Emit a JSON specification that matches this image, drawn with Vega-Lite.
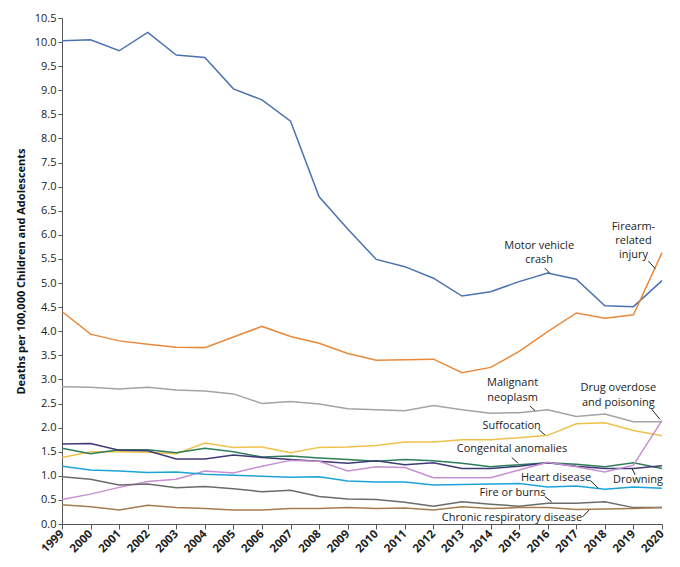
{
  "$schema": "https://vega.github.io/schema/vega-lite/v6.json",
  "width": 600,
  "height": 506,
  "autosize": "none",
  "padding": {"left": 62, "top": 18, "right": 18, "bottom": 43},
  "background": "#ffffff",
  "datasets": {
    "rates": [
      {"cause": "Motor vehicle crash", "year": 1999, "rate": 10.03}, {"cause": "Motor vehicle crash", "year": 2000, "rate": 10.05},
      {"cause": "Motor vehicle crash", "year": 2001, "rate": 9.82}, {"cause": "Motor vehicle crash", "year": 2002, "rate": 10.2},
      {"cause": "Motor vehicle crash", "year": 2003, "rate": 9.73}, {"cause": "Motor vehicle crash", "year": 2004, "rate": 9.68},
      {"cause": "Motor vehicle crash", "year": 2005, "rate": 9.03}, {"cause": "Motor vehicle crash", "year": 2006, "rate": 8.8},
      {"cause": "Motor vehicle crash", "year": 2007, "rate": 8.36}, {"cause": "Motor vehicle crash", "year": 2008, "rate": 6.79},
      {"cause": "Motor vehicle crash", "year": 2009, "rate": 6.12}, {"cause": "Motor vehicle crash", "year": 2010, "rate": 5.49},
      {"cause": "Motor vehicle crash", "year": 2011, "rate": 5.34}, {"cause": "Motor vehicle crash", "year": 2012, "rate": 5.1},
      {"cause": "Motor vehicle crash", "year": 2013, "rate": 4.73}, {"cause": "Motor vehicle crash", "year": 2014, "rate": 4.82},
      {"cause": "Motor vehicle crash", "year": 2015, "rate": 5.03}, {"cause": "Motor vehicle crash", "year": 2016, "rate": 5.21},
      {"cause": "Motor vehicle crash", "year": 2017, "rate": 5.08}, {"cause": "Motor vehicle crash", "year": 2018, "rate": 4.53},
      {"cause": "Motor vehicle crash", "year": 2019, "rate": 4.51}, {"cause": "Motor vehicle crash", "year": 2020, "rate": 5.05},

      {"cause": "Firearm-related injury", "year": 1999, "rate": 4.41}, {"cause": "Firearm-related injury", "year": 2000, "rate": 3.94},
      {"cause": "Firearm-related injury", "year": 2001, "rate": 3.8}, {"cause": "Firearm-related injury", "year": 2002, "rate": 3.73},
      {"cause": "Firearm-related injury", "year": 2003, "rate": 3.67}, {"cause": "Firearm-related injury", "year": 2004, "rate": 3.66},
      {"cause": "Firearm-related injury", "year": 2005, "rate": 3.88}, {"cause": "Firearm-related injury", "year": 2006, "rate": 4.1},
      {"cause": "Firearm-related injury", "year": 2007, "rate": 3.89}, {"cause": "Firearm-related injury", "year": 2008, "rate": 3.75},
      {"cause": "Firearm-related injury", "year": 2009, "rate": 3.54}, {"cause": "Firearm-related injury", "year": 2010, "rate": 3.4},
      {"cause": "Firearm-related injury", "year": 2011, "rate": 3.41}, {"cause": "Firearm-related injury", "year": 2012, "rate": 3.42},
      {"cause": "Firearm-related injury", "year": 2013, "rate": 3.14}, {"cause": "Firearm-related injury", "year": 2014, "rate": 3.25},
      {"cause": "Firearm-related injury", "year": 2015, "rate": 3.58}, {"cause": "Firearm-related injury", "year": 2016, "rate": 3.99},
      {"cause": "Firearm-related injury", "year": 2017, "rate": 4.38}, {"cause": "Firearm-related injury", "year": 2018, "rate": 4.27},
      {"cause": "Firearm-related injury", "year": 2019, "rate": 4.34}, {"cause": "Firearm-related injury", "year": 2020, "rate": 5.63},

      {"cause": "Malignant neoplasm", "year": 1999, "rate": 2.85}, {"cause": "Malignant neoplasm", "year": 2000, "rate": 2.84},
      {"cause": "Malignant neoplasm", "year": 2001, "rate": 2.8}, {"cause": "Malignant neoplasm", "year": 2002, "rate": 2.84},
      {"cause": "Malignant neoplasm", "year": 2003, "rate": 2.78}, {"cause": "Malignant neoplasm", "year": 2004, "rate": 2.76},
      {"cause": "Malignant neoplasm", "year": 2005, "rate": 2.7}, {"cause": "Malignant neoplasm", "year": 2006, "rate": 2.5},
      {"cause": "Malignant neoplasm", "year": 2007, "rate": 2.54}, {"cause": "Malignant neoplasm", "year": 2008, "rate": 2.49},
      {"cause": "Malignant neoplasm", "year": 2009, "rate": 2.39}, {"cause": "Malignant neoplasm", "year": 2010, "rate": 2.37},
      {"cause": "Malignant neoplasm", "year": 2011, "rate": 2.35}, {"cause": "Malignant neoplasm", "year": 2012, "rate": 2.46},
      {"cause": "Malignant neoplasm", "year": 2013, "rate": 2.37}, {"cause": "Malignant neoplasm", "year": 2014, "rate": 2.3},
      {"cause": "Malignant neoplasm", "year": 2015, "rate": 2.31}, {"cause": "Malignant neoplasm", "year": 2016, "rate": 2.37},
      {"cause": "Malignant neoplasm", "year": 2017, "rate": 2.23}, {"cause": "Malignant neoplasm", "year": 2018, "rate": 2.28},
      {"cause": "Malignant neoplasm", "year": 2019, "rate": 2.12}, {"cause": "Malignant neoplasm", "year": 2020, "rate": 2.12},

      {"cause": "Suffocation", "year": 1999, "rate": 1.38}, {"cause": "Suffocation", "year": 2000, "rate": 1.5},
      {"cause": "Suffocation", "year": 2001, "rate": 1.5}, {"cause": "Suffocation", "year": 2002, "rate": 1.49},
      {"cause": "Suffocation", "year": 2003, "rate": 1.46}, {"cause": "Suffocation", "year": 2004, "rate": 1.68},
      {"cause": "Suffocation", "year": 2005, "rate": 1.59}, {"cause": "Suffocation", "year": 2006, "rate": 1.6},
      {"cause": "Suffocation", "year": 2007, "rate": 1.48}, {"cause": "Suffocation", "year": 2008, "rate": 1.59},
      {"cause": "Suffocation", "year": 2009, "rate": 1.6}, {"cause": "Suffocation", "year": 2010, "rate": 1.63},
      {"cause": "Suffocation", "year": 2011, "rate": 1.7}, {"cause": "Suffocation", "year": 2012, "rate": 1.7},
      {"cause": "Suffocation", "year": 2013, "rate": 1.75}, {"cause": "Suffocation", "year": 2014, "rate": 1.75},
      {"cause": "Suffocation", "year": 2015, "rate": 1.79}, {"cause": "Suffocation", "year": 2016, "rate": 1.84},
      {"cause": "Suffocation", "year": 2017, "rate": 2.08}, {"cause": "Suffocation", "year": 2018, "rate": 2.1},
      {"cause": "Suffocation", "year": 2019, "rate": 1.94}, {"cause": "Suffocation", "year": 2020, "rate": 1.83},

      {"cause": "Congenital anomalies", "year": 1999, "rate": 1.57}, {"cause": "Congenital anomalies", "year": 2000, "rate": 1.46},
      {"cause": "Congenital anomalies", "year": 2001, "rate": 1.54}, {"cause": "Congenital anomalies", "year": 2002, "rate": 1.54},
      {"cause": "Congenital anomalies", "year": 2003, "rate": 1.48}, {"cause": "Congenital anomalies", "year": 2004, "rate": 1.57},
      {"cause": "Congenital anomalies", "year": 2005, "rate": 1.5}, {"cause": "Congenital anomalies", "year": 2006, "rate": 1.39},
      {"cause": "Congenital anomalies", "year": 2007, "rate": 1.41}, {"cause": "Congenital anomalies", "year": 2008, "rate": 1.37},
      {"cause": "Congenital anomalies", "year": 2009, "rate": 1.34}, {"cause": "Congenital anomalies", "year": 2010, "rate": 1.3},
      {"cause": "Congenital anomalies", "year": 2011, "rate": 1.34}, {"cause": "Congenital anomalies", "year": 2012, "rate": 1.31},
      {"cause": "Congenital anomalies", "year": 2013, "rate": 1.26}, {"cause": "Congenital anomalies", "year": 2014, "rate": 1.19},
      {"cause": "Congenital anomalies", "year": 2015, "rate": 1.23}, {"cause": "Congenital anomalies", "year": 2016, "rate": 1.27},
      {"cause": "Congenital anomalies", "year": 2017, "rate": 1.24}, {"cause": "Congenital anomalies", "year": 2018, "rate": 1.19},
      {"cause": "Congenital anomalies", "year": 2019, "rate": 1.27}, {"cause": "Congenital anomalies", "year": 2020, "rate": 1.15},

      {"cause": "Drowning", "year": 1999, "rate": 1.66}, {"cause": "Drowning", "year": 2000, "rate": 1.67},
      {"cause": "Drowning", "year": 2001, "rate": 1.53}, {"cause": "Drowning", "year": 2002, "rate": 1.52},
      {"cause": "Drowning", "year": 2003, "rate": 1.35}, {"cause": "Drowning", "year": 2004, "rate": 1.35},
      {"cause": "Drowning", "year": 2005, "rate": 1.43}, {"cause": "Drowning", "year": 2006, "rate": 1.38},
      {"cause": "Drowning", "year": 2007, "rate": 1.34}, {"cause": "Drowning", "year": 2008, "rate": 1.3},
      {"cause": "Drowning", "year": 2009, "rate": 1.26}, {"cause": "Drowning", "year": 2010, "rate": 1.31},
      {"cause": "Drowning", "year": 2011, "rate": 1.23}, {"cause": "Drowning", "year": 2012, "rate": 1.27},
      {"cause": "Drowning", "year": 2013, "rate": 1.15}, {"cause": "Drowning", "year": 2014, "rate": 1.15},
      {"cause": "Drowning", "year": 2015, "rate": 1.2}, {"cause": "Drowning", "year": 2016, "rate": 1.27},
      {"cause": "Drowning", "year": 2017, "rate": 1.2}, {"cause": "Drowning", "year": 2018, "rate": 1.15},
      {"cause": "Drowning", "year": 2019, "rate": 1.15}, {"cause": "Drowning", "year": 2020, "rate": 1.21},

      {"cause": "Drug overdose and poisoning", "year": 1999, "rate": 0.51}, {"cause": "Drug overdose and poisoning", "year": 2000, "rate": 0.62},
      {"cause": "Drug overdose and poisoning", "year": 2001, "rate": 0.76}, {"cause": "Drug overdose and poisoning", "year": 2002, "rate": 0.88},
      {"cause": "Drug overdose and poisoning", "year": 2003, "rate": 0.93}, {"cause": "Drug overdose and poisoning", "year": 2004, "rate": 1.1},
      {"cause": "Drug overdose and poisoning", "year": 2005, "rate": 1.06}, {"cause": "Drug overdose and poisoning", "year": 2006, "rate": 1.2},
      {"cause": "Drug overdose and poisoning", "year": 2007, "rate": 1.32}, {"cause": "Drug overdose and poisoning", "year": 2008, "rate": 1.3},
      {"cause": "Drug overdose and poisoning", "year": 2009, "rate": 1.1}, {"cause": "Drug overdose and poisoning", "year": 2010, "rate": 1.19},
      {"cause": "Drug overdose and poisoning", "year": 2011, "rate": 1.17}, {"cause": "Drug overdose and poisoning", "year": 2012, "rate": 0.96},
      {"cause": "Drug overdose and poisoning", "year": 2013, "rate": 0.96}, {"cause": "Drug overdose and poisoning", "year": 2014, "rate": 0.96},
      {"cause": "Drug overdose and poisoning", "year": 2015, "rate": 1.12}, {"cause": "Drug overdose and poisoning", "year": 2016, "rate": 1.28},
      {"cause": "Drug overdose and poisoning", "year": 2017, "rate": 1.19}, {"cause": "Drug overdose and poisoning", "year": 2018, "rate": 1.08},
      {"cause": "Drug overdose and poisoning", "year": 2019, "rate": 1.22}, {"cause": "Drug overdose and poisoning", "year": 2020, "rate": 2.15},

      {"cause": "Heart disease", "year": 1999, "rate": 1.2}, {"cause": "Heart disease", "year": 2000, "rate": 1.12},
      {"cause": "Heart disease", "year": 2001, "rate": 1.1}, {"cause": "Heart disease", "year": 2002, "rate": 1.07},
      {"cause": "Heart disease", "year": 2003, "rate": 1.08}, {"cause": "Heart disease", "year": 2004, "rate": 1.03},
      {"cause": "Heart disease", "year": 2005, "rate": 1.01}, {"cause": "Heart disease", "year": 2006, "rate": 0.99},
      {"cause": "Heart disease", "year": 2007, "rate": 0.97}, {"cause": "Heart disease", "year": 2008, "rate": 0.98},
      {"cause": "Heart disease", "year": 2009, "rate": 0.89}, {"cause": "Heart disease", "year": 2010, "rate": 0.87},
      {"cause": "Heart disease", "year": 2011, "rate": 0.87}, {"cause": "Heart disease", "year": 2012, "rate": 0.81},
      {"cause": "Heart disease", "year": 2013, "rate": 0.82}, {"cause": "Heart disease", "year": 2014, "rate": 0.83},
      {"cause": "Heart disease", "year": 2015, "rate": 0.84}, {"cause": "Heart disease", "year": 2016, "rate": 0.77},
      {"cause": "Heart disease", "year": 2017, "rate": 0.79}, {"cause": "Heart disease", "year": 2018, "rate": 0.72},
      {"cause": "Heart disease", "year": 2019, "rate": 0.77}, {"cause": "Heart disease", "year": 2020, "rate": 0.74},

      {"cause": "Fire or burns", "year": 1999, "rate": 0.98}, {"cause": "Fire or burns", "year": 2000, "rate": 0.93},
      {"cause": "Fire or burns", "year": 2001, "rate": 0.81}, {"cause": "Fire or burns", "year": 2002, "rate": 0.83},
      {"cause": "Fire or burns", "year": 2003, "rate": 0.75}, {"cause": "Fire or burns", "year": 2004, "rate": 0.78},
      {"cause": "Fire or burns", "year": 2005, "rate": 0.73}, {"cause": "Fire or burns", "year": 2006, "rate": 0.67},
      {"cause": "Fire or burns", "year": 2007, "rate": 0.7}, {"cause": "Fire or burns", "year": 2008, "rate": 0.57},
      {"cause": "Fire or burns", "year": 2009, "rate": 0.52}, {"cause": "Fire or burns", "year": 2010, "rate": 0.51},
      {"cause": "Fire or burns", "year": 2011, "rate": 0.45}, {"cause": "Fire or burns", "year": 2012, "rate": 0.37},
      {"cause": "Fire or burns", "year": 2013, "rate": 0.46}, {"cause": "Fire or burns", "year": 2014, "rate": 0.41},
      {"cause": "Fire or burns", "year": 2015, "rate": 0.37}, {"cause": "Fire or burns", "year": 2016, "rate": 0.43},
      {"cause": "Fire or burns", "year": 2017, "rate": 0.43}, {"cause": "Fire or burns", "year": 2018, "rate": 0.46},
      {"cause": "Fire or burns", "year": 2019, "rate": 0.34}, {"cause": "Fire or burns", "year": 2020, "rate": 0.34},

      {"cause": "Chronic respiratory disease", "year": 1999, "rate": 0.4}, {"cause": "Chronic respiratory disease", "year": 2000, "rate": 0.36},
      {"cause": "Chronic respiratory disease", "year": 2001, "rate": 0.29}, {"cause": "Chronic respiratory disease", "year": 2002, "rate": 0.39},
      {"cause": "Chronic respiratory disease", "year": 2003, "rate": 0.34}, {"cause": "Chronic respiratory disease", "year": 2004, "rate": 0.32},
      {"cause": "Chronic respiratory disease", "year": 2005, "rate": 0.29}, {"cause": "Chronic respiratory disease", "year": 2006, "rate": 0.29},
      {"cause": "Chronic respiratory disease", "year": 2007, "rate": 0.32}, {"cause": "Chronic respiratory disease", "year": 2008, "rate": 0.32},
      {"cause": "Chronic respiratory disease", "year": 2009, "rate": 0.34}, {"cause": "Chronic respiratory disease", "year": 2010, "rate": 0.32},
      {"cause": "Chronic respiratory disease", "year": 2011, "rate": 0.33}, {"cause": "Chronic respiratory disease", "year": 2012, "rate": 0.29},
      {"cause": "Chronic respiratory disease", "year": 2013, "rate": 0.36}, {"cause": "Chronic respiratory disease", "year": 2014, "rate": 0.32},
      {"cause": "Chronic respiratory disease", "year": 2015, "rate": 0.34}, {"cause": "Chronic respiratory disease", "year": 2016, "rate": 0.34},
      {"cause": "Chronic respiratory disease", "year": 2017, "rate": 0.3}, {"cause": "Chronic respiratory disease", "year": 2018, "rate": 0.31},
      {"cause": "Chronic respiratory disease", "year": 2019, "rate": 0.32}, {"cause": "Chronic respiratory disease", "year": 2020, "rate": 0.34}
    ],
    "labels": [
      {"text": "Motor vehicle", "x": 2015.7, "y": 5.77},
      {"text": "crash", "x": 2015.7, "y": 5.47},
      {"text": "Firearm-", "x": 2019.0, "y": 6.17},
      {"text": "related", "x": 2019.0, "y": 5.88},
      {"text": "injury", "x": 2019.0, "y": 5.59},
      {"text": "Malignant", "x": 2014.77, "y": 2.92},
      {"text": "neoplasm", "x": 2014.77, "y": 2.62},
      {"text": "Drug overdose", "x": 2018.47, "y": 2.82},
      {"text": "and poisoning", "x": 2018.47, "y": 2.52},
      {"text": "Suffocation", "x": 2014.74, "y": 2.03},
      {"text": "Congenital anomalies", "x": 2014.75, "y": 1.55},
      {"text": "Heart disease", "x": 2016.29, "y": 0.96},
      {"text": "Drowning", "x": 2019.16, "y": 0.91},
      {"text": "Fire or burns", "x": 2014.77, "y": 0.64},
      {"text": "Chronic respiratory disease", "x": 2014.75, "y": 0.12}
    ],
    "leaders": [
      {"x": 2015.9, "y": 5.31, "x2": 2016.08, "y2": 5.2},
      {"x": 2019.52, "y": 5.46, "x2": 2019.76, "y2": 5.3},
      {"x": 2015.38, "y": 2.45, "x2": 2015.56, "y2": 2.35},
      {"x": 2019.64, "y": 2.38, "x2": 2019.93, "y2": 2.17},
      {"x": 2015.67, "y": 1.97, "x2": 2015.9, "y2": 1.85},
      {"x": 2014.74, "y": 1.38, "x2": 2014.97, "y2": 1.26},
      {"x": 2017.5, "y": 0.9, "x2": 2017.77, "y2": 0.74},
      {"x": 2018.94, "y": 1.16, "x2": 2019.06, "y2": 1.02},
      {"x": 2015.9, "y": 0.57, "x2": 2016.14, "y2": 0.46},
      {"x": 2017.22, "y": 0.15, "x2": 2017.45, "y2": 0.29}
    ]
  },
  "layer": [
    {
      "data": {"name": "rates"},
      "mark": {"type": "line", "strokeWidth": 1.5},
      "encoding": {
        "x": {
          "field": "year", "type": "quantitative",
          "scale": {"domain": [1999, 2020], "nice": false, "zero": false},
          "axis": {
            "title": null, "values": [1999, 2000, 2001, 2002, 2003, 2004, 2005, 2006, 2007, 2008, 2009, 2010, 2011, 2012, 2013, 2014, 2015, 2016, 2017, 2018, 2019, 2020],
            "tickCount": 40,
            "format": "d", "labelAngle": -45, "labelAlign": "right", "labelBaseline": "middle",
            "labelFontWeight": "bold", "labelFontSize": 11.5, "labelPadding": 3, "grid": false,
            "labelOverlap": false, "labelFlush": false,
            "domainColor": "#555555", "tickColor": "#555555", "tickSize": 5
          }
        },
        "y": {
          "field": "rate", "type": "quantitative",
          "scale": {"domain": [0, 10.5], "nice": false},
          "axis": {
            "title": "Deaths per 100,000 Children and Adolescents",
            "titleFontWeight": "bold", "titleFontSize": 11, "titlePadding": 8,
            "values": [0, 0.5, 1, 1.5, 2, 2.5, 3, 3.5, 4, 4.5, 5, 5.5, 6, 6.5, 7, 7.5, 8, 8.5, 9, 9.5, 10, 10.5],
            "tickCount": 40,
            "format": ".1f", "labelFontSize": 11, "grid": false,
            "labelOverlap": false, "labelFlush": false,
            "domainColor": "#555555", "tickColor": "#555555", "tickSize": 4
          }
        },
        "color": {
          "field": "cause", "type": "nominal", "legend": null,
          "scale": {
            "domain": ["Motor vehicle crash", "Firearm-related injury", "Malignant neoplasm", "Suffocation", "Congenital anomalies", "Drowning", "Drug overdose and poisoning", "Heart disease", "Fire or burns", "Chronic respiratory disease"],
            "range": ["#4a72b0", "#e8893b", "#a3a3a3", "#efc14a", "#2f7d5c", "#3e3a78", "#c78fd2", "#1ea3d8", "#6b6b6b", "#a67b50"]
          }
        }
      }
    },
    {
      "data": {"name": "leaders"},
      "mark": {"type": "rule", "color": "#222222", "strokeWidth": 1},
      "encoding": {
        "x": {"field": "x", "type": "quantitative"},
        "y": {"field": "y", "type": "quantitative"},
        "x2": {"field": "x2"},
        "y2": {"field": "y2"}
      }
    },
    {
      "data": {"name": "labels"},
      "mark": {"type": "text", "fontSize": 11, "align": "center", "baseline": "middle", "color": "#222222"},
      "encoding": {
        "x": {"field": "x", "type": "quantitative"},
        "y": {"field": "y", "type": "quantitative"},
        "text": {"field": "text"}
      }
    }
  ],
  "config": {
    "font": "Open Sans",
    "view": {"stroke": null},
    "axis": {"labelColor": "#222222", "titleColor": "#111111"}
  }
}
